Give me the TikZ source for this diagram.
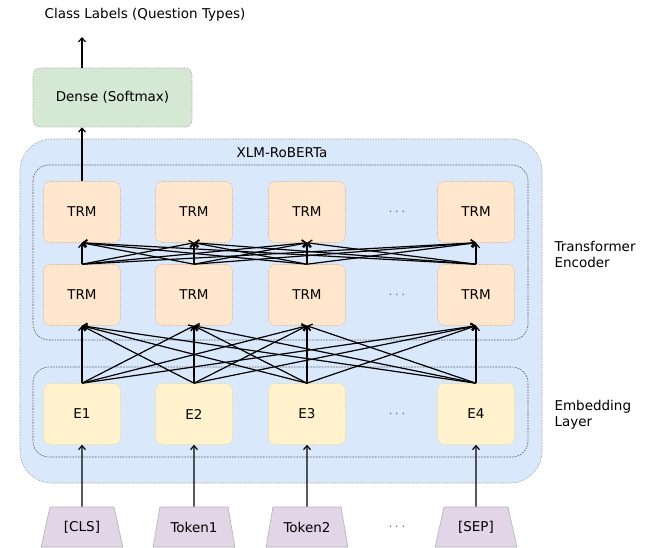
\documentclass[tikz,border=0pt]{standalone}
\usepackage{fontspec}
\setmainfont{DejaVu Sans}
\usepackage{xcolor}
\usetikzlibrary{arrows.meta, positioning, shapes.geometric}

\definecolor{robfill}{HTML}{DAE8FC}
\definecolor{trmfill}{HTML}{FFE6CC}
\definecolor{embfill}{HTML}{FFF2CC}
\definecolor{densefill}{HTML}{D5E8D4}
\definecolor{tokfill}{HTML}{E1D5E7}

\tikzset{
  dotline/.style={dash pattern=on 1.6pt off 1.2pt, line width=0.6pt},
  robbox/.style={dotline, draw=gray!70, fill=robfill, rounded corners=32pt},
  groupbox/.style={dotline, draw=black!65, rounded corners=16pt},
  trm/.style={dotline, draw=orange!40!gray!50, fill=trmfill, rounded corners=7pt,
    minimum width=77pt, minimum height=61pt},
  emb/.style={trm, draw=yellow!50!gray!50, fill=embfill},
  dense/.style={trm, draw=gray!60, fill=densefill, minimum width=159pt, minimum height=59pt},
  token/.style={trapezium, trapezium stretches=true, trapezium angle=72.6,
    draw=gray!60, line width=0.6pt, fill=tokfill, minimum width=82pt, minimum height=40pt},
  conn/.style={-{Straight Barb[length=4pt,width=7pt]}, line width=1.2pt},
  gap/.style={text=black!60}
}

\begin{document}
\begin{tikzpicture}[x=1pt, y=-1pt, every node/.style={font=\fontsize{13.5}{16}\selectfont}]
  \useasboundingbox (0,0) rectangle (655,548);
  % ---------- XLM-RoBERTa ----------
  \draw[robbox] (20,139) rectangle (542,483);
  \node (rob) at (282,153) {XLM-RoBERTa};
  \draw[groupbox] (33,165) rectangle (528,340);
  \draw[groupbox] (33,367) rectangle (528,457);
  \node[align=left, anchor=west] (enc) at (551,254) {Transformer\\Encoder};
  \node[align=left, anchor=west] (embl) at (551,415) {Embedding\\Layer};
  % ---------- COLUMNS ----------
  \foreach \i/\x/\e/\t in {1/82/E1/[CLS], 2/194/E2/Token1, 3/307/E3/Token2, 4/476/E4/[SEP]} {
    \node[trm] (trmA\i) at (\x,212) {TRM};
    \node[trm] (trmB\i) at (\x,295) {TRM};
    \node[emb] (emb\i) at (\x,414) {\e};
    \node[token] (tok\i) at (\x,527) {\t};
  }
  \foreach \y/\n in {212/a, 295/b, 414/c, 527/d}
    \node[gap] (dots\n) at (397,\y) {$\cdots$};
  % ---------- CONNECTIONS ----------
  \foreach \i in {1,...,4} {
    \draw[conn] (tok\i.north) -- (emb\i.south);
    \foreach \j in {1,...,4} {
      \draw[conn] (emb\i.north) -- (trmB\j.south);
      \draw[conn] (trmB\i.north) -- (trmA\j.south);
    }
  }
  % ---------- OUTPUT ----------
  \node[dense] (dense) at (112.5,97.5) {Dense (Softmax)};
  \node (labels) at (145,15) {Class Labels (Question Types)};
  \coordinate (out) at (82,37);
  \draw[conn] (trmA1.north) -- (trmA1.north |- dense.south);
  \draw[conn] (trmA1.north |- dense.north) -- (out);
\end{tikzpicture}
\end{document}
